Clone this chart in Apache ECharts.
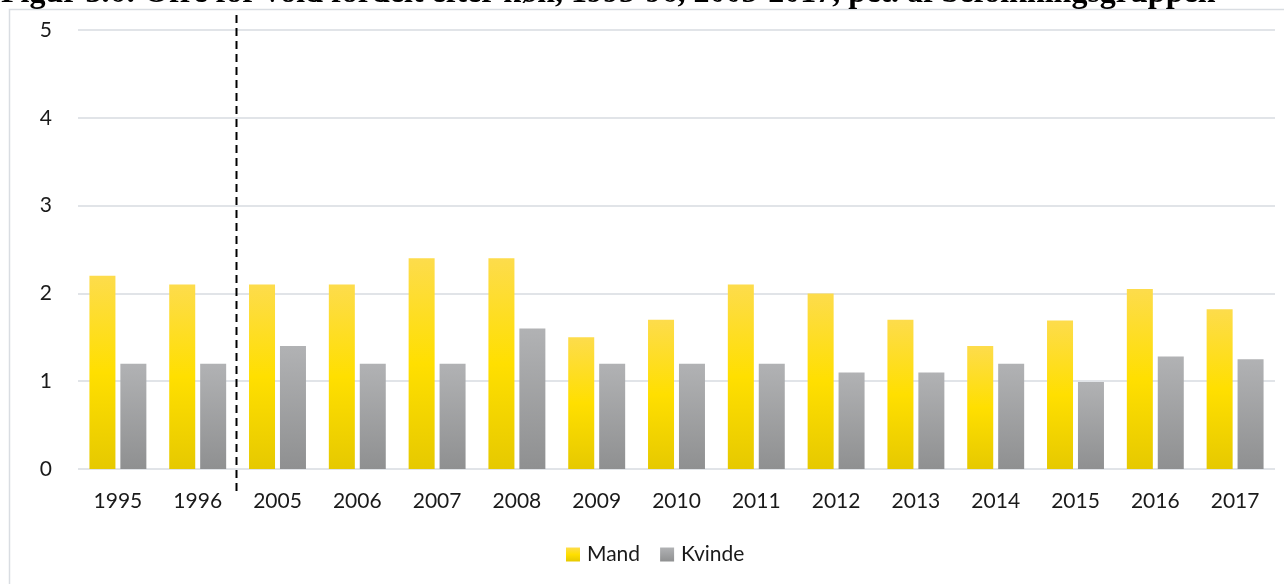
<!DOCTYPE html>
<html>
<head>
<meta charset="utf-8">
<script src="https://cdn.jsdelivr.net/npm/echarts@6/dist/echarts.min.js"></script>
<style>
  html, body { margin: 0; padding: 0; background: #fff; }
  #main { width: 1284px; height: 584px; }
</style>
</head>
<body>
<div id="main"></div>
<script>
var years = ['1995', '1996', '2005', '2006', '2007', '2008', '2009', '2010',
             '2011', '2012', '2013', '2014', '2015', '2016', '2017'];
var mand   = [2.2, 2.1, 2.1, 2.1, 2.4, 2.4, 1.5, 1.7, 2.1, 2.0, 1.7, 1.4, 1.69, 2.05, 1.82];
var kvinde = [1.2, 1.2, 1.4, 1.2, 1.2, 1.6, 1.2, 1.2, 1.2, 1.1, 1.1, 1.2, 0.99, 1.28, 1.25];
var titleText = 'Figur 3.6: Ofre for vold fordelt efter køn, 1995-96, 2005-2017, pct. af befolkningsgruppen';

var yellow = new echarts.graphic.LinearGradient(0, 0, 0, 1, [
  { offset: 0, color: '#FDDC4C' },
  { offset: 0.5, color: '#FFDF00' },
  { offset: 1, color: '#E6C900' }
]);
var grey = new echarts.graphic.LinearGradient(0, 0, 0, 1, [
  { offset: 0, color: '#B1B2B4' },
  { offset: 1, color: '#8F9091' }
]);

var font = 'Lato, "Open Sans", sans-serif';

var option = {
  animation: false,
  title: {
    text: titleText,
    left: -4,
    top: -27,
    textStyle: {
      fontFamily: '"Liberation Serif", "DejaVu Serif", serif',
      fontWeight: 'bold',
      fontSize: 32,
      color: '#000'
    }
  },
  legend: {
    data: ['Mand', 'Kvinde'],
    top: 539,
    left: 561,
    itemWidth: 14,
    itemHeight: 14,
    itemGap: 20,
    icon: 'rect',
    textStyle: { fontFamily: font, fontSize: 21, color: '#1a1a1a', padding: [0, 0, 0, 2] }
  },
  grid: {
    left: 78,
    right: 9,
    top: 30,
    bottom: 115
  },
  xAxis: {
    type: 'category',
    data: years,
    axisLine: { show: false },
    axisTick: { show: false },
    axisLabel: { fontFamily: font, fontSize: 21, color: '#1a1a1a', margin: 22 }
  },
  yAxis: {
    type: 'value',
    min: 0,
    max: 5,
    interval: 1,
    axisLabel: { fontFamily: font, fontSize: 21, color: '#1a1a1a', margin: 26 },
    splitLine: { lineStyle: { color: '#E1E4E8', width: 2 } }
  },
  series: [
    {
      name: 'Mand',
      type: 'bar',
      data: mand,
      barWidth: 26,
      barGap: '19%',
      itemStyle: { color: yellow }
    },
    {
      name: 'Kvinde',
      type: 'bar',
      data: kvinde,
      barWidth: 26,
      itemStyle: { color: grey }
    }
  ]
};

var chart = echarts.init(document.getElementById('main'));
chart.setOption(option);

// dashed separator between 1996 and 2005, frame around the chart area
var x1 = chart.convertToPixel({ xAxisIndex: 0 }, years[1]);
var x2 = chart.convertToPixel({ xAxisIndex: 0 }, years[2]);
var sepX = Math.round((x1 + x2) / 2) - 1.5;
chart.setOption({
  graphic: [
    {
      type: 'rect',
      shape: { x: 9.5, y: 9.5, width: 1400, height: 700 },
      style: { fill: null, stroke: '#D9DDE2', lineWidth: 1.5 },
      silent: true
    },
    {
      type: 'line',
      shape: { x1: sepX, y1: 15, x2: sepX, y2: 494 },
      style: { stroke: '#000', lineWidth: 2, lineDash: [8, 5] },
      silent: true
    }
  ]
});
</script>
</body>
</html>
